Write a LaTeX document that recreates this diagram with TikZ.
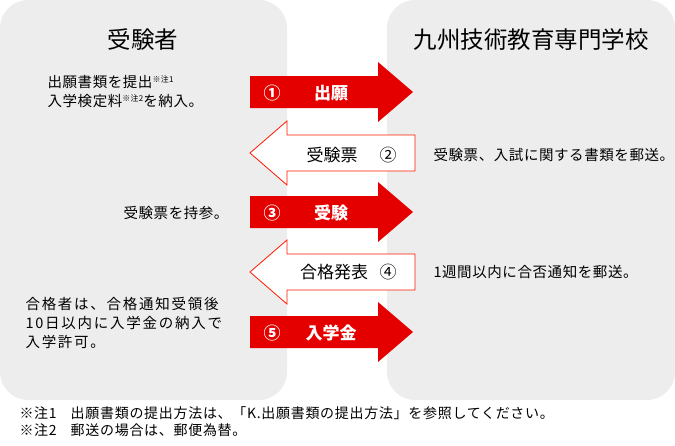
\documentclass[tikz,border=0pt]{standalone}
\usepackage{fontspec}
\setmainfont{Noto Sans CJK JP}
\begin{document}
\begin{tikzpicture}[x=1pt,y=-1pt,
  panel/.style={fill=black!7,draw=none,rounded corners=28pt},
  redarrow/.style={fill=red!90!black,draw=none},
  whitearrow/.style={fill=white,draw=red!80!orange,line width=0.8pt},
  wt/.style={text=white,font=\fontsize{17}{19}\selectfont\bfseries},
  bt/.style={text=black,font=\fontsize{17}{19}\selectfont},
  note/.style={font=\fontsize{14.5}{19}\selectfont\addfontfeatures{LetterSpace=4},align=left,anchor=west},
  title/.style={font=\fontsize{23.5}{26}\selectfont}]
\useasboundingbox (0,0) rectangle (675,445);
\fill[panel] (0,0) rectangle (287,400);
\fill[panel] (387,0) rectangle (675,400);
\node[title] (t1) at (143,40) {受験者};
\node[title] (t2) at (531,40) {九州技術教育専門学校};
% arrows
\foreach \y/\n in {92/a1,212/a3,332/a5}{
  \fill[redarrow] (250,\y-16) -- (378,\y-16) -- (378,\y-30) -- (413,\y) -- (378,\y+30) -- (378,\y+16) -- (250,\y+16) -- cycle;
}
\foreach \y in {153,272}{
  \draw[whitearrow] (415,\y-18) -- (287,\y-18) -- (287,\y-32) -- (250,\y) -- (287,\y+32) -- (287,\y+18) -- (415,\y+18) -- cycle;
}
\node[wt] (n1) at (272,93) {①};
\node[wt] (l1) at (331,93) {出願};
\node[bt] (l2) at (332,155) {受験票};
\node[bt] (n2) at (388,155) {②};
\node[wt] (n3) at (272,213) {③};
\node[wt] (l3) at (331,213) {受験};
\node[bt] (l4) at (334,272) {合格発表};
\node[bt] (n4) at (388,272) {④};
\node[wt] (n5) at (272,333) {⑤};
\node[wt] (l5) at (331,333) {入学金};
% notes
\node[note] (d1) at (44,92) {出願書類を提出{\fontsize{8}{9}\selectfont\raisebox{5pt}{※注1}}\\入学検定料{\fontsize{8}{9}\selectfont\raisebox{5pt}{※注2}}を納入。};
\node[note] (d3) at (120,213) {受験票を持参。};
\node[note,font=\fontsize{14.5}{19}\selectfont\addfontfeatures{LetterSpace=12}] (d5) at (22,323) {合格者は、合格通知受領後\\10日以内に入学金の納入で\\入学許可。};
\node[note] (d2) at (430,155) {受験票、入試に関する書類を郵送。};
\node[note] (d4) at (430,272) {1週間以内に合否通知を郵送。};
\node[note,font=\fontsize{14}{17}\selectfont\addfontfeatures{LetterSpace=5}] (f) at (16,422) {※注1\quad 出願書類の提出方法は、「K.出願書類の提出方法」を参照してください。\\※注2\quad 郵送の場合は、郵便為替。};
\end{tikzpicture}
\end{document}
